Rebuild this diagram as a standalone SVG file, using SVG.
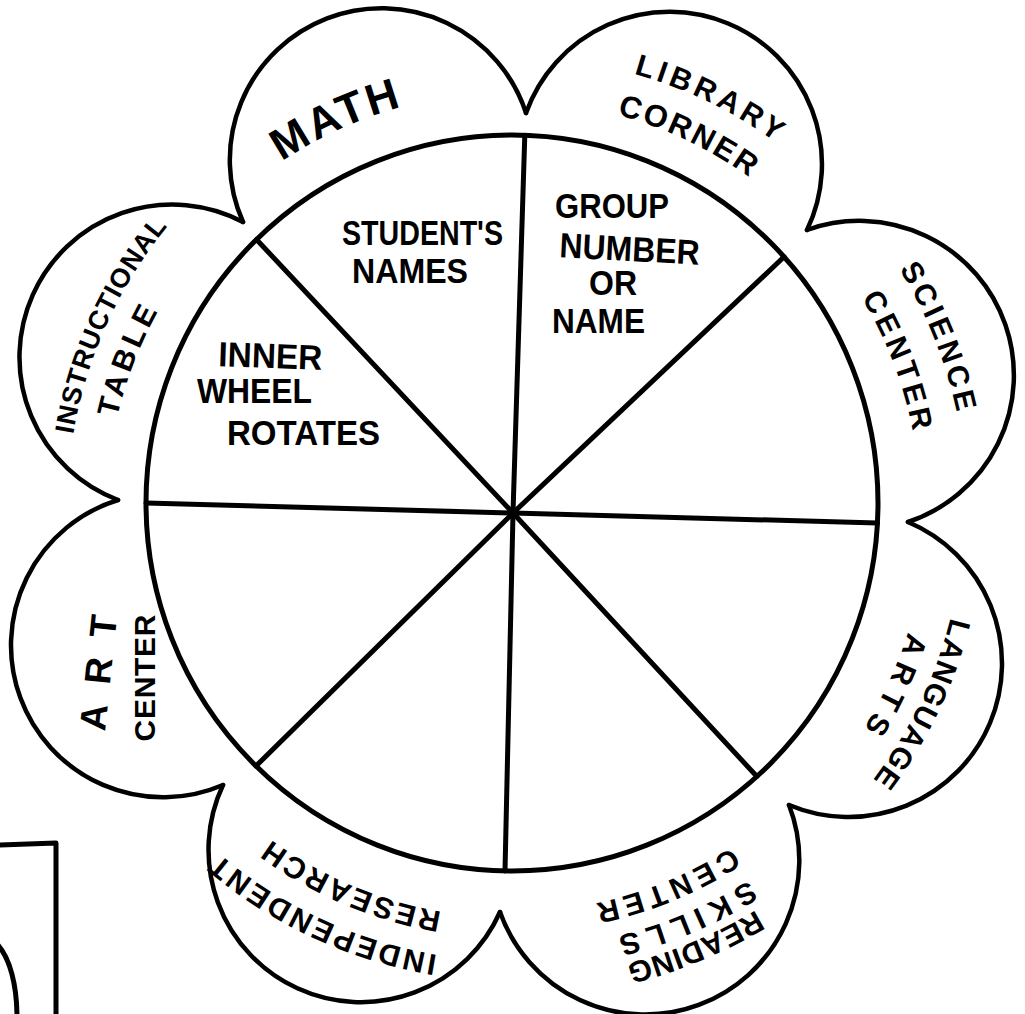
<svg xmlns="http://www.w3.org/2000/svg" xmlns:xlink="http://www.w3.org/1999/xlink" width="1025" height="1014" viewBox="0 0 1025 1014">
<style>
.ln{fill:none;stroke:#000;stroke-width:5;stroke-linecap:round;stroke-linejoin:round}
.pt{fill:none;stroke:#000;stroke-width:4.5;stroke-linecap:round;stroke-linejoin:miter}
.t{font-family:"Liberation Sans",Arial,sans-serif;font-weight:700;fill:#000}
.in{font-size:35px;text-anchor:middle}
.pl{font-size:30px}
</style>
<defs>
<path id="p-math" d="M 281.2,161.9 A 416 416 0 0 1 402.2,106.7"/>
<path id="p-library" d="M 632.5,73.4 A 451 451 0 0 1 776.5,142.7"/>
<path id="p-corner" d="M 615.9,114.5 A 407 407 0 0 1 750.1,177.9"/>
<path id="p-science" d="M 898.7,268.2 A 455 455 0 0 1 957.0,413.4"/>
<path id="p-scenter" d="M 861.0,296.7 A 408 408 0 0 1 912.9,432.2"/>
<path id="p-language" d="M 950.8,616.6 A 452 452 0 0 1 872.5,780.6"/>
<path id="p-arts" d="M 908.4,630.7 A 415 415 0 0 1 863.2,729.2"/>
<path id="p-reading" d="M 756.9,909.2 A 470 470 0 0 1 624.9,964.2"/>
<path id="p-skills" d="M 749.6,879.5 A 441 441 0 0 1 616.4,936.4"/>
<path id="p-rcenter" d="M 732.6,846.4 A 404 404 0 0 1 593.9,903.6"/>
<path id="p-independent" d="M 438.8,955.1 A 453 453 0 0 1 218.4,853.0"/>
<path id="p-research" d="M 442.9,912.1 A 410 410 0 0 1 269.9,838.9"/>
<path id="p-instructional" d="M 73.0,435.3 A 445 445 0 0 1 168.1,225.6"/>
<path id="p-table" d="M 116.9,419.0 A 405 405 0 0 1 158.5,310.4"/>
</defs>
<rect x="0" y="0" width="1025" height="1014" fill="#fff"/>

<g id="wheel">
<ellipse class="ln" cx="512" cy="503" rx="366" ry="368"/>
</g>

<g id="connectors">
<path class="ln" d="M 513,513 L 524.8,135.2"/>
<path class="ln" d="M 513,513 L 784.1,256.8"/>
<path class="ln" d="M 513,513 L 877.5,523"/>
<path class="ln" d="M 513,513 L 756.9,776.5"/>
<path class="ln" d="M 513,513 L 505,870.9"/>
<path class="ln" d="M 513,513 L 256,766"/>
<path class="ln" d="M 513,513 L 146,503"/>
<path class="ln" d="M 513,513 L 256.5,239.5"/>
</g>

<g id="petal-math">
<path class="pt" d="M 243,222 A 151.84 151.84 0 1 1 526,113"/>
<text class="t" font-size="44"><textPath xlink:href="#p-math" href="#p-math" startOffset="50%" text-anchor="middle" textLength="132" lengthAdjust="spacing">MATH</textPath></text>
</g>
<g id="petal-library">
<path class="pt" d="M 526,113 A 152.4 152.4 0 1 1 807,230"/>
<text class="t pl"><textPath xlink:href="#p-library" href="#p-library" startOffset="50%" text-anchor="middle" textLength="158" lengthAdjust="spacing">LIBRARY</textPath></text>
<text class="t" font-size="31"><textPath xlink:href="#p-corner" href="#p-corner" startOffset="50%" text-anchor="middle" textLength="147" lengthAdjust="spacing">CORNER</textPath></text>
</g>
<g id="petal-science">
<path class="pt" d="M 807,230 A 154.5 154.5 0 1 1 908,522"/>
<text class="t pl"><textPath xlink:href="#p-science" href="#p-science" startOffset="50%" text-anchor="middle" textLength="155" lengthAdjust="spacing">SCIENCE</textPath></text>
<text class="t pl"><textPath xlink:href="#p-scenter" href="#p-scenter" startOffset="50%" text-anchor="middle" textLength="144" lengthAdjust="spacing">CENTER</textPath></text>
</g>
<g id="petal-language">
<path class="pt" d="M 908,522 A 153.5 153.5 0 1 1 789,805"/>
<text class="t pl"><textPath xlink:href="#p-language" href="#p-language" startOffset="50%" text-anchor="middle" textLength="181" lengthAdjust="spacing">LANGUAGE</textPath></text>
<text class="t pl"><textPath xlink:href="#p-arts" href="#p-arts" startOffset="50%" text-anchor="middle" textLength="106" lengthAdjust="spacing">ARTS</textPath></text>
</g>
<g id="petal-reading">
<path class="pt" d="M 789,805 A 154.1 154.1 0 1 1 500,912"/>
<text class="t pl"><textPath xlink:href="#p-reading" href="#p-reading" startOffset="50%" text-anchor="middle" textLength="141" lengthAdjust="spacing">READING</textPath></text>
<text class="t pl"><textPath xlink:href="#p-skills" href="#p-skills" startOffset="50%" text-anchor="middle" textLength="143" lengthAdjust="spacing">SKILLS</textPath></text>
<text class="t pl"><textPath xlink:href="#p-rcenter" href="#p-rcenter" startOffset="50%" text-anchor="middle" textLength="148" lengthAdjust="spacing">CENTER</textPath></text>
</g>
<g id="petal-independent">
<path class="pt" d="M 500,912 A 152.37 152.37 0 1 1 223,785"/>
<text class="t pl"><textPath xlink:href="#p-independent" href="#p-independent" startOffset="50%" text-anchor="middle" textLength="243" lengthAdjust="spacing">INDEPENDENT</textPath></text>
<text class="t pl"><textPath xlink:href="#p-research" href="#p-research" startOffset="50%" text-anchor="middle" textLength="187" lengthAdjust="spacing">RESEARCH</textPath></text>
</g>
<g id="petal-art">
<path class="pt" d="M 223,785 A 152.07 152.07 0 1 1 118,500"/>
<text class="t" font-size="37" text-anchor="middle" textLength="116" lengthAdjust="spacing" transform="translate(111,674) rotate(-84)">ART</text>
<text class="t" font-size="30" text-anchor="middle" textLength="127" lengthAdjust="spacing" transform="translate(155,678) rotate(-90)">CENTER</text>
</g>
<g id="petal-instructional">
<path class="pt" d="M 118,500 A 152.68 152.68 0 1 1 243,222"/>
<text class="t" font-size="27"><textPath xlink:href="#p-instructional" href="#p-instructional" startOffset="50%" text-anchor="middle" textLength="231" lengthAdjust="spacing">INSTRUCTIONAL</textPath></text>
<text class="t pl"><textPath xlink:href="#p-table" href="#p-table" startOffset="50%" text-anchor="middle" textLength="114" lengthAdjust="spacing">TABLE</textPath></text>
</g>

<g id="sector-students">
<text class="t in" font-size="36" x="422.5" y="245" textLength="161" lengthAdjust="spacingAndGlyphs">STUDENT'S</text>
<text class="t in" font-size="36" x="410" y="283" textLength="116" lengthAdjust="spacingAndGlyphs">NAMES</text>
</g>
<g id="sector-group">
<text class="t in" x="612" y="218" textLength="114" lengthAdjust="spacingAndGlyphs">GROUP</text>
<text class="t in" x="629" y="261" textLength="140" lengthAdjust="spacingAndGlyphs" transform="rotate(3 629 261)">NUMBER</text>
<text class="t in" x="613" y="295" textLength="48" lengthAdjust="spacingAndGlyphs">OR</text>
<text class="t in" x="598.5" y="333" textLength="93" lengthAdjust="spacingAndGlyphs">NAME</text>
</g>
<g id="sector-inner">
<text class="t in" x="270" y="368" textLength="104" lengthAdjust="spacingAndGlyphs" transform="rotate(2 270 368)">INNER</text>
<text class="t in" x="254.5" y="403" textLength="115" lengthAdjust="spacingAndGlyphs">WHEEL</text>
<text class="t in" x="303.5" y="445" textLength="153" lengthAdjust="spacingAndGlyphs">ROTATES</text>
</g>

<g id="corner-box">
<path class="ln" d="M -3,845 L 56,843 L 56,1018"/>
<path class="ln" d="M -3,944 C 10,958 17,985 17,1018"/>
</g>
</svg>
